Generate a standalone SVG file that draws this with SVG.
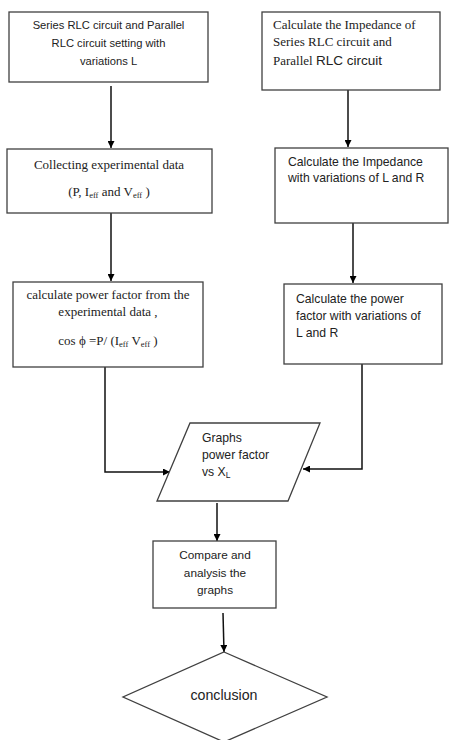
<svg xmlns="http://www.w3.org/2000/svg" width="449" height="740" viewBox="0 0 449 740">
<defs>
<marker id="ah" viewBox="0 0 10 10" refX="10" refY="5" markerWidth="7" markerHeight="7" markerUnits="userSpaceOnUse" orient="auto">
<path d="M0,0 L10,5 L0,10 z" fill="#000"/>
</marker>
<style>
.box{fill:#fff;stroke:#404040;stroke-width:1.3}
.con{fill:none;stroke:#111;stroke-width:1.5;marker-end:url(#ah)}
.sans{font-family:"Liberation Sans",Arial,sans-serif;font-size:11.2px;fill:#222}
.sans2{font-family:"Liberation Sans",Arial,sans-serif;font-size:12.2px;fill:#222}
.serif{font-family:"Liberation Serif","Times New Roman",serif;font-size:13px;fill:#222}
.sub{font-size:8.5px}
</style>
</defs>
<rect width="449" height="740" fill="#fff"/>

<g id="connectors">
<path class="con" d="M111,86 V148"/>
<path class="con" d="M111,213 V281"/>
<path class="con" d="M105,367 V472 H170"/>
<path class="con" d="M348,90 V147"/>
<path class="con" d="M353,223 V283"/>
<path class="con" d="M362,364 V469 H303"/>
<path class="con" d="M217,503 V541"/>
<path class="con" d="M223,613 L224,652"/>
</g>

<g id="n1">
<rect class="box" x="9" y="12" width="199" height="70"/>
<text class="sans" text-anchor="middle" x="108.5" y="29">Series RLC circuit and Parallel</text>
<text class="sans" text-anchor="middle" x="108.5" y="47">RLC circuit setting with</text>
<text class="sans" text-anchor="middle" x="108.5" y="65">variations L</text>
</g>

<g id="n2">
<rect class="box" x="7" y="149" width="205" height="64"/>
<text class="serif" text-anchor="middle" x="109" y="169">Collecting experimental data</text>
<text class="serif" text-anchor="middle" x="109" y="196">(P, I<tspan class="sub" dy="2">eff</tspan><tspan dy="-2"> and V</tspan><tspan class="sub" dy="2">eff</tspan><tspan dy="-2"> )</tspan></text>
</g>

<g id="n3">
<rect class="box" x="13" y="282" width="190" height="85"/>
<text class="serif" text-anchor="middle" x="108" y="299">calculate power factor from the</text>
<text class="serif" text-anchor="middle" x="108" y="316">experimental data ,</text>
<text class="serif" text-anchor="middle" x="108" y="345">cos ϕ =P/ (I<tspan class="sub" dy="2">eff</tspan><tspan dy="-2"> V</tspan><tspan class="sub" dy="2">eff</tspan><tspan dy="-2">  )</tspan></text>
</g>

<g id="n4">
<rect class="box" x="262" y="12" width="178" height="78"/>
<text class="serif" x="273" y="29">Calculate the Impedance of</text>
<text class="serif" x="273" y="46">Series RLC circuit and</text>
<text class="serif" x="273" y="65">Parallel <tspan style="font-family:'Liberation Sans',Arial,sans-serif;font-size:13.5px">RLC circuit</tspan></text>
</g>

<g id="n5">
<rect class="box" x="275" y="148" width="173" height="75"/>
<text class="sans2" x="288" y="166">Calculate the Impedance</text>
<text class="sans2" x="288" y="182">with variations of L and R</text>
</g>

<g id="n6">
<rect class="box" x="284" y="284" width="158" height="80"/>
<text class="sans2" x="296" y="303">Calculate the power</text>
<text class="sans2" x="296" y="320">factor with variations of</text>
<text class="sans2" x="296" y="337">L and R</text>
</g>

<g id="n7">
<polygon class="box" points="190,423 320,423 288,501 157,501"/>
<text class="sans2" x="202" y="442">Graphs</text>
<text class="sans2" x="202" y="459">power factor</text>
<text class="sans2" x="202" y="476">vs X<tspan class="sub" dy="2">L</tspan></text>
</g>

<g id="n8">
<rect class="box" x="153" y="541" width="123" height="67"/>
<text class="sans" text-anchor="middle" x="215" y="559" style="font-size:11.8px">Compare and</text>
<text class="sans" text-anchor="middle" x="215" y="577" style="font-size:11.8px">analysis the</text>
<text class="sans" text-anchor="middle" x="215" y="594" style="font-size:11.8px">graphs</text>
</g>

<g id="n9">
<polygon class="box" points="224,652 327,697 224,742 123,697"/>
<text class="sans" text-anchor="middle" x="224" y="700" style="font-size:14.2px">conclusion</text>
</g>
</svg>
